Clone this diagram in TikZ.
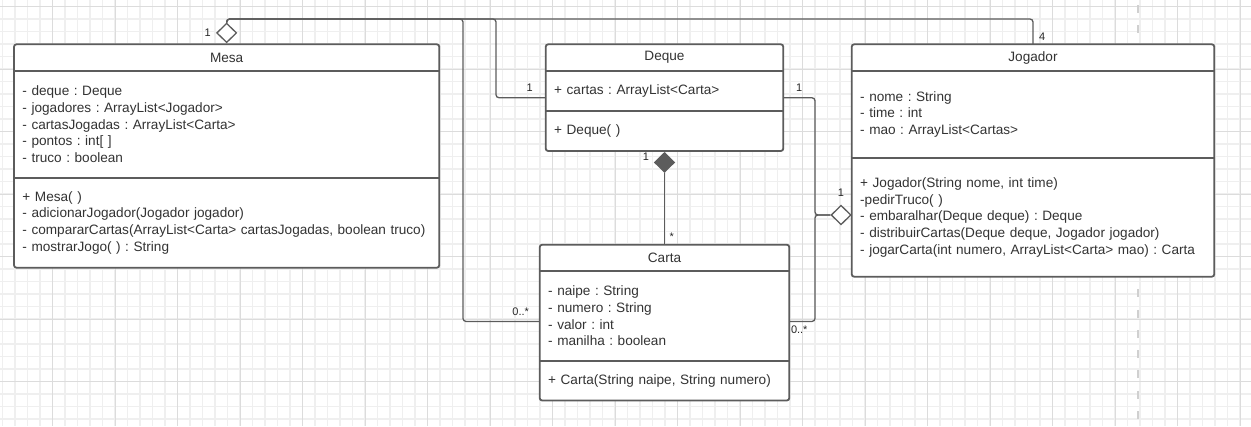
\documentclass[tikz,border=0pt]{standalone}
\usepackage{fontspec}
\setmainfont{Liberation Sans}
\frenchspacing
\usetikzlibrary{positioning,shapes.geometric}
\definecolor{linegray}{HTML}{5C5C5C}
\definecolor{txtgray}{HTML}{333333}
\definecolor{gridminor}{HTML}{EFEFEF}
\definecolor{gridmajor}{HTML}{DCDCDC}
\definecolor{pagegray}{HTML}{D0D0D0}

\begin{document}
\begin{tikzpicture}[
    x=1pt, y=-1pt,
    node distance=0pt,
    part/.style={rectangle, fill=white, inner xsep=8.5pt, inner ysep=0pt, outer sep=0pt, text width=#1, align=left, text=txtgray, font=\fontsize{13.6}{16.7}\selectfont},
    head/.style={part=#1, align=center, minimum height=26.4pt},
    frame/.style={draw=linegray, line width=1.8pt, rounded corners=2.5pt},
    assoc/.style={draw=linegray, line width=1.3pt, rounded corners=3pt},
    hollow/.style={diamond, draw=linegray, line width=1.3pt, fill=white, minimum width=20pt, minimum height=19.5pt, inner sep=0pt},
    filled/.style={hollow, fill=linegray},
    lbl/.style={inner sep=0pt, text=black!85, font=\fontsize{11}{13}\selectfont}
]
\useasboundingbox (0,0) rectangle (1251,426);

\foreach \i in {0,...,100} \draw[gridminor, line width=1.2pt] (2.5+12.5*\i,0) -- (2.5+12.5*\i,426);
\foreach \j in {-1,...,34} \draw[gridminor, line width=1.2pt] (0,6.5+12.5*\j) -- (1251,6.5+12.5*\j);
\foreach \i in {1,...,20} \draw[gridmajor, line width=0.8pt] (-10+62.5*\i,0) -- (-10+62.5*\i,426);
\foreach \j in {0,...,6} \draw[gridmajor, line width=0.8pt] (0,6.5+62.5*\j) -- (1251,6.5+62.5*\j);
\draw[pagegray, line width=2pt, dash pattern=on 8pt off 12.3pt, dash phase=15.3pt] (1138,0) -- (1138,426);

\node[head=408.3pt, anchor=north west] (mesaH) at (14,44.3) {Mesa};
\node[part=408.3pt, minimum height=107pt, below=of mesaH] (mesaA) {- deque : Deque\\- jogadores : ArrayList<Jogador>\\- cartasJogadas : ArrayList<Carta>\\- pontos : int[ ]\\- truco : boolean};
\node[part=408.3pt, minimum height=90pt, below=of mesaA] (mesaM) {+ Mesa( )\\- adicionarJogador(Jogador jogador)\\- compararCartas(ArrayList<Carta> cartasJogadas, boolean truco)\\- mostrarJogo( ) : String};

\node[head=220.6pt, anchor=north west] (dequeH) at (545.7,44.3) {Deque};
\node[part=220.6pt, minimum height=40.3pt, below=of dequeH] (dequeA) {+ cartas : ArrayList<Carta>};
\node[part=220.6pt, minimum height=40pt, below=of dequeA] (dequeM) {+ Deque( )};

\node[head=345.6pt, anchor=north west] (jogH) at (851.7,44.3) {Jogador};
\node[part=345.6pt, minimum height=87pt, below=of jogH] (jogA) {- nome : String\\- time : int\\- mao : ArrayList<Cartas>};
\node[part=345.6pt, minimum height=119pt, below=of jogA] (jogM) {+ Jogador(String nome, int time)\\-pedirTruco( )\\- embaralhar(Deque deque) : Deque\\- distribuirCartas(Deque deque, Jogador jogador)\\- jogarCarta(int numero, ArrayList<Carta> mao) : Carta};

\node[head=232.6pt, anchor=north west] (cartaH) at (539.7,244.7) {Carta};
\node[part=232.6pt, minimum height=89.7pt, below=of cartaH] (cartaA) {- naipe : String\\- numero : String\\- valor : int\\- manilha : boolean};
\node[part=232.6pt, minimum height=39.7pt, below=of cartaA] (cartaM) {+ Carta(String naipe, String numero)};

\foreach \c in {mesa,deque,jog,carta}{
  \draw[frame] (\c H.north west) rectangle (\c M.south east);
  \draw[frame, rounded corners=0pt] (\c A.north west) -- (\c A.north east) (\c M.north west) -- (\c M.north east);
}

\coordinate (bus) at (0,19);
\coordinate (kC) at (463,19);
\coordinate (kD) at (496,19);
\coordinate (kR) at (815,0);
\coordinate (dq) at ([yshift=-6.9pt]dequeA.west);
\coordinate (dqE) at ([yshift=-6.9pt]dequeA.east);
\coordinate (cq) at ([yshift=-5.5pt]cartaA.west);
\coordinate (cqE) at ([yshift=-5.5pt]cartaA.east);
\coordinate (jq) at ([yshift=2.2pt]jogM.west);

\node[hollow, above=1pt of mesaH] (dMesa) {};
\node[filled, below=1pt of dequeM] (dDeck) {};
\node[hollow, left=of jq] (dJog) {};

\draw[assoc] (dMesa.north) |- (bus -| jogH.north) -- (jogH.north);
\draw[assoc] (dMesa.north) |- (kD) |- (dq);
\draw[assoc] (dMesa.north) |- (kC) |- (cq);
\draw[assoc] (dqE) -| (kR |- dJog.west) -- (dJog.west);
\draw[assoc] (cqE) -| (kR |- dJog.west) -- (dJog.west);
\draw[assoc] (dDeck.south) -- (cartaH.north);

\node[lbl, left=5pt of dMesa] {1};
\node[lbl, above right=4pt and 6pt of jogH.north] {4};
\node[lbl, above left=6.4pt and 12.7pt of dq] {1};
\node[lbl, above left=6pt and 10.5pt of cq] {0..*};
\node[lbl, above right=6.4pt and 12.7pt of dqE] {1};
\node[lbl, below right=4.3pt and 1.5pt of cqE] {0..*};
\node[lbl, above=8pt of dJog] {1};
\node[lbl, left=10pt of dDeck.north west] {1};
\node[lbl, above right=4pt and 5pt of cartaH.north] {*};
\end{tikzpicture}
\end{document}
